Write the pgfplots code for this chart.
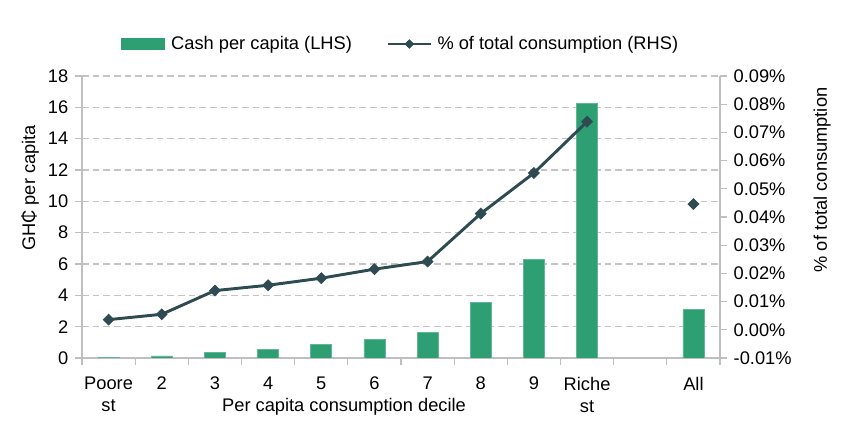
\documentclass[border=0pt]{standalone}
\usepackage{pgfplots}
\pgfplotsset{compat=1.18}
\usepackage{fontspec}
\setmainfont{Liberation Sans}
\definecolor{barc}{HTML}{2E9E73}
\definecolor{linec}{HTML}{2F4B52}
\definecolor{axc}{HTML}{BFBFBF}
\definecolor{gridc}{HTML}{C4C4C4}
\newcommand{\fs}{\fontsize{13.7}{16.5}\selectfont}
\begin{document}
\fs
\begin{tikzpicture}
\path[use as bounding box] (-61.5pt,-62.25pt) rectangle (574.5pt,268.5pt);
\pgfplotsset{
 base/.style={
  at={(0,0)}, anchor=south west, scale only axis, width=478.5pt, height=211.5pt,
  xmin=-0.5, xmax=11.5,
  /pgf/number format/assume math mode=true,
  tick label style={font=\fs, text=black},
  label style={font=\fs},
  tick align=outside, major tick length=5.5pt,
  tick style={draw=axc, line width=0.9pt},
  axis line style={draw=axc, line width=0.9pt},
 }
}
\begin{axis}[base,
  axis y line*=left, axis x line*=bottom,
  ymin=0, ymax=18, ytick={0,2,...,18},
  ymajorgrids, grid style={draw=gridc, dash pattern=on 5pt off 3pt, line width=0.9pt},
  xtick={-0.5,0.5,...,11.5}, xticklabels={},
  extra x ticks={0,...,11},
  extra x tick labels={{Poore\\st},2,3,4,5,6,7,8,9,{Riche\\st},{},All},
  extra x tick style={major tick length=0pt, xticklabel style={align=center, yshift=-9.5pt}},
  xlabel={Per capita consumption decile},
  xlabel style={at={(axis description cs:0.4107,-0.174)}, anchor=center},
  ylabel={GH₵ per capita},
  ylabel style={at={(axis description cs:-0.0815,0.603)}, anchor=center},
  legend columns=2,
  legend style={at={(axis description cs:0.5,1.1135)}, anchor=center, draw=none, fill=none,
    font=\fs,
    /tikz/every even column/.append style={column sep=24pt}},
]
\addplot[ybar, bar width=0.395, fill=barc, draw=barc!75!white, line width=0.5pt,
  legend image code/.code={\fill[barc] (0pt,-4.2pt) rectangle (32pt,4.2pt); \path (35pt,0pt);}]
  coordinates {(0,0.03) (1,0.13) (2,0.38) (3,0.57) (4,0.87) (5,1.19) (6,1.64) (7,3.55) (8,6.30) (9,16.23) (11,3.08)};
\addlegendentry{Cash per capita (LHS)}
\addlegendimage{linec, line width=2.2pt, mark=square*, mark options={rotate=45, fill=linec, line width=0.5pt}, mark size=2.3pt,
  legend image code/.code={\draw[mark repeat=2,mark phase=2] plot coordinates {(0pt,0pt)(16pt,0pt)(32pt,0pt)}; \path (34pt,0pt);}}
\addlegendentry{\% of total consumption (RHS)}
\end{axis}
\begin{axis}[base,
  axis y line*=right, axis x line=none,
  ymin=-0.01, ymax=0.09,
  ytick={-0.01,0,0.01,0.02,0.03,0.04,0.05,0.06,0.07,0.08,0.09},
  yticklabel={\pgfmathprintnumber[fixed,fixed zerofill,precision=2]{\tick}\%},
  scaled y ticks=false, unbounded coords=jump,
  ylabel={\% of total consumption},
  ylabel style={at={(axis description cs:1.16,0.631)}, anchor=center},
]
\addplot[linec, line width=2.2pt, mark=square*, mark options={rotate=45, fill=linec, line width=0.5pt}, mark size=2.9pt]
  coordinates {(0,0.0036) (1,0.0055) (2,0.0139) (3,0.0158) (4,0.0183) (5,0.0215) (6,0.0242) (7,0.0412) (8,0.0556) (9,0.0738) (10,nan) (11,0.0446)};
\end{axis}
\end{tikzpicture}
\end{document}
